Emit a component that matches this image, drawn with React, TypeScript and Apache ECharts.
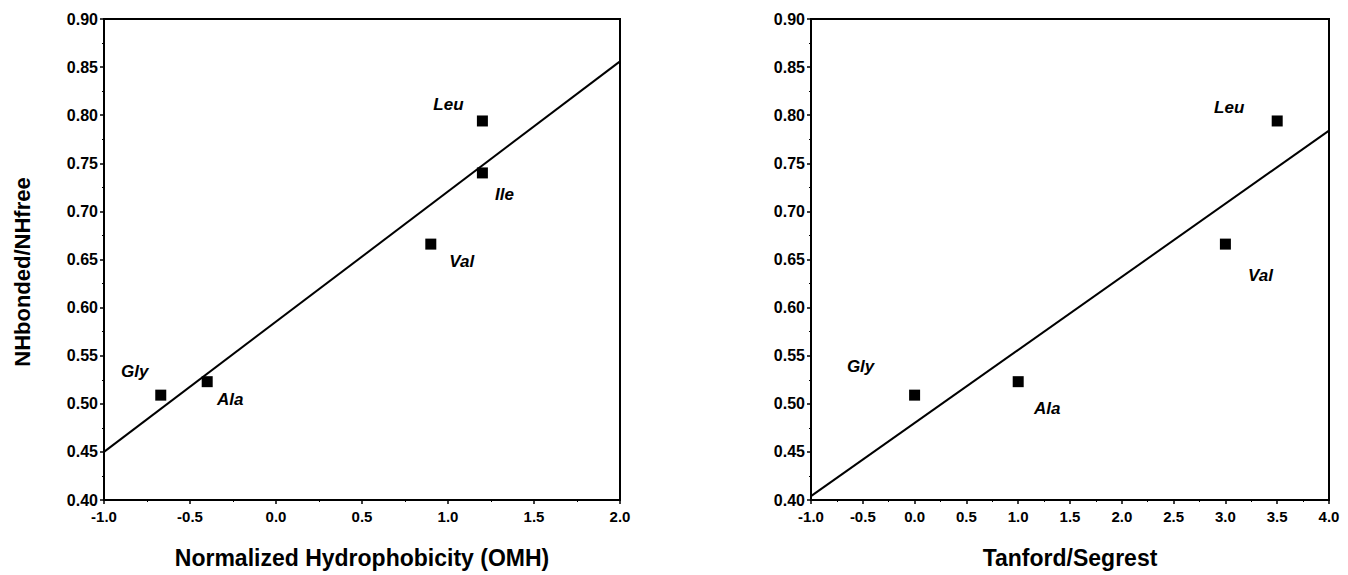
import React, { useEffect, useRef } from "react";
import * as echarts from "echarts";

// Amino acids and measured NHbonded/NHfree ratios
const leftNames = ["Gly", "Ala", "Val", "Leu", "Ile"];
const leftX = [-0.67, -0.4, 0.9, 1.2, 1.2]; // Normalized Hydrophobicity (OMH)
const leftY = [0.509, 0.523, 0.666, 0.794, 0.74];
const leftFitX = [-1.0, 2.0];
const leftFitY = [0.45, 0.856];

const rightNames = ["Gly", "Ala", "Val", "Leu"];
const rightX = [0.0, 1.0, 3.0, 3.5]; // Tanford/Segrest
const rightY = [0.509, 0.523, 0.666, 0.794];
const rightFitX = [-1.0, 4.0];
const rightFitY = [0.404, 0.784];

const yTicks = { min: 0.4, max: 0.9, interval: 0.05 };
const leftXTicks = { min: -1.0, max: 2.0, interval: 0.5 };
const rightXTicks = { min: -1.0, max: 4.0, interval: 0.5 };

const yTitle = "NHbonded/NHfree";
const leftXTitle = "Normalized Hydrophobicity (OMH)";
const rightXTitle = "Tanford/Segrest";

// label offsets (style)
const leftLabelOffsets: Record<string, number[]> = {
  Gly: [-26, -24],
  Ala: [23, 18],
  Val: [31, 17],
  Leu: [-34, -16],
  Ile: [22, 22],
};
const rightLabelOffsets: Record<string, number[]> = {
  Gly: [-54, -29],
  Ala: [29, 27],
  Val: [35, 31],
  Leu: [-48, -13],
};

const FONT = "'Liberation Sans', Arial, Helvetica, sans-serif";

export default function App() {
  const ref = useRef<HTMLDivElement>(null);
  useEffect(() => {
    if (!ref.current) return;
    const chart = echarts.init(ref.current, undefined, { renderer: "svg" });

    const mkX = (gridIndex: number, t: any, name: string) => ({
      type: "value",
      gridIndex,
      min: t.min,
      max: t.max,
      interval: t.interval,
      name,
      nameLocation: "middle",
      nameGap: 46,
      nameTextStyle: { fontFamily: FONT, fontWeight: "bold", fontSize: 23, color: "#000" },
      axisLine: { show: true, onZero: false, lineStyle: { color: "#000", width: 2 } },
      axisTick: { show: true, length: 4, lineStyle: { color: "#000", width: 1.5 } },
      minorTick: { show: true, splitNumber: 2, length: 2, lineStyle: { color: "#000", width: 1 } },
      splitLine: { show: false },
      axisLabel: {
        fontFamily: FONT,
        fontWeight: "bold",
        fontSize: 15,
        color: "#000",
        margin: 9,
        formatter: (v: number) => v.toFixed(1),
      },
    });
    const mkY = (gridIndex: number) => ({
      type: "value",
      gridIndex,
      min: yTicks.min,
      max: yTicks.max,
      interval: yTicks.interval,
      axisLine: { show: true, onZero: false, lineStyle: { color: "#000", width: 2 } },
      axisTick: { show: true, length: 4, lineStyle: { color: "#000", width: 1.5 } },
      minorTick: { show: true, splitNumber: 2, length: 2, lineStyle: { color: "#000", width: 1 } },
      splitLine: { show: false },
      axisLabel: {
        fontFamily: FONT,
        fontWeight: "bold",
        fontSize: 16,
        color: "#000",
        margin: 6,
        formatter: (v: number) => v.toFixed(2),
      },
    });

    const mkScatter = (idx: number, names: string[], xs: number[], ys: number[], offs: Record<string, number[]>) => ({
      type: "scatter",
      xAxisIndex: idx,
      yAxisIndex: idx,
      symbol: "rect",
      symbolSize: 11,
      itemStyle: { color: "#000", opacity: 1 },
      label: {
        show: true,
        position: "inside",
        formatter: "{b}",
        fontFamily: FONT,
        fontStyle: "italic",
        fontWeight: "bold",
        fontSize: 17,
        color: "#000",
        opacity: 1,
      },
      data: names.map((n, i) => ({
        name: n,
        value: [xs[i], ys[i]],
        label: { offset: offs[n] },
      })),
      z: 3,
    });
    const mkLine = (idx: number, xs: number[], ys: number[]) => ({
      type: "line",
      xAxisIndex: idx,
      yAxisIndex: idx,
      showSymbol: false,
      symbol: "none",
      lineStyle: { color: "#000", width: 2 },
      data: xs.map((x, i) => [x, ys[i]]),
      z: 2,
    });

    chart.setOption({
      animation: false,
      backgroundColor: "#fff",
      grid: [
        { left: 104, top: 19, width: 516, height: 481, show: true, borderColor: "#000", borderWidth: 2 },
        { left: 811, top: 19, width: 518, height: 481, show: true, borderColor: "#000", borderWidth: 2 },
      ],
      xAxis: [mkX(0, leftXTicks, leftXTitle), mkX(1, rightXTicks, rightXTitle)],
      yAxis: [mkY(0), mkY(1)],
      series: [
        mkLine(0, leftFitX, leftFitY),
        mkScatter(0, leftNames, leftX, leftY, leftLabelOffsets),
        mkLine(1, rightFitX, rightFitY),
        mkScatter(1, rightNames, rightX, rightY, rightLabelOffsets),
      ],
      graphic: [
        {
          type: "text",
          x: 22,
          y: 272,
          rotation: Math.PI / 2,
          style: {
            text: yTitle,
            fontFamily: FONT,
            fontWeight: "bold",
            fontSize: 22,
            fill: "#000",
            align: "center",
            verticalAlign: "middle",
          },
        },
      ],
    });
    return () => chart.dispose();
  }, []);
  return (
    <div
      ref={ref}
      style={{ position: "fixed", left: 0, top: 0, width: 1348, height: 575, background: "#fff" }}
    />
  );
}
